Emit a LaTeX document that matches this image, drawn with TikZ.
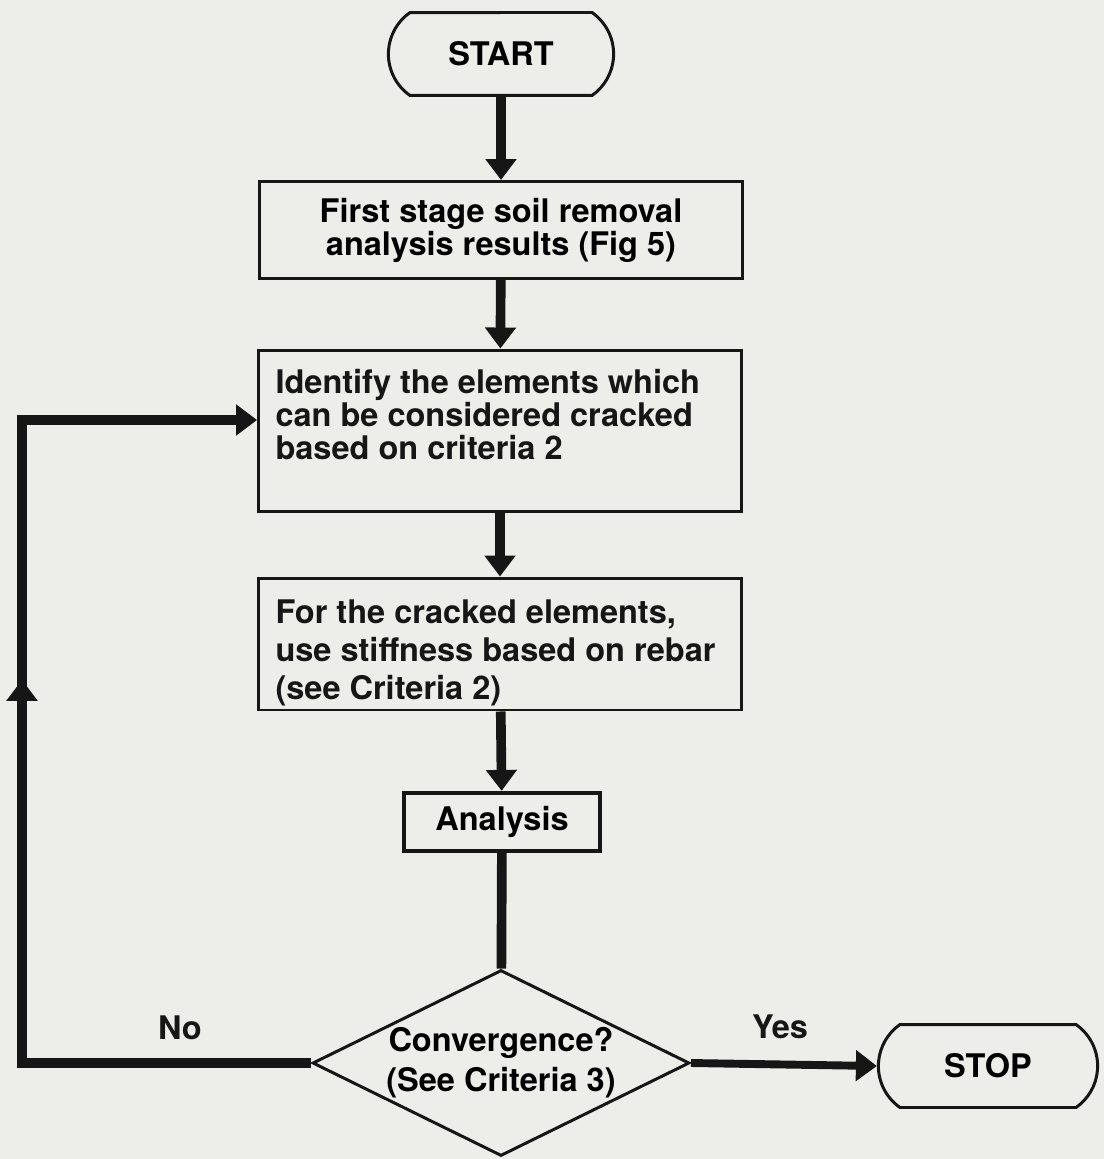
\documentclass[tikz,border=0pt]{standalone}
\usepackage{fontspec}
\setmainfont{TeX Gyre Heros}
\usetikzlibrary{arrows.meta, positioning, shapes.geometric, shapes.misc, decorations.markings}
\definecolor{ink}{HTML}{161616}
\definecolor{paper}{HTML}{EDEDE9}
\tikzset{
  every picture/.style={font=\bfseries\fontsize{18.5}{18.8}\selectfont, line width=1.7pt},
  term/.style={draw=ink, rounded rectangle, rounded rectangle arc length=110, minimum height=1.66cm},
  procbox/.style={draw=ink, rectangle, minimum width=9.66cm, inner sep=0pt, align=center},
  txt/.style={text=ink, align=left, inner sep=0pt},
  decide/.style={draw=ink, diamond, aspect=2.03, minimum width=7.54cm, minimum height=3.72cm, inner sep=0pt, align=center},
  flow/.style={-{Triangle[length=0.42cm, width=0.6cm]}, draw=ink, line width=5.5pt},
  plain/.style={draw=ink, line width=5.5pt},
  midup/.style={postaction={decorate}, decoration={markings,
    mark=at position 0.576 with {\arrow{Triangle[length=0.42cm, width=0.6cm]}}}},
  lbl/.style={text=ink, inner sep=0pt},
}
\begin{document}
\begin{tikzpicture}[x=0.02cm, y=-0.02cm]
  \fill[paper] (0,0) rectangle (1104,1159);
  \useasboundingbox (0,0) rectangle (1104,1159);

  \node[term, minimum width=4.74cm] (start) at (501,54) {START};
  \node[procbox, minimum height=1.94cm] (soil) at (501,230)
    {First stage soil removal\\analysis results (Fig 5)};
  \node[procbox, minimum height=3.24cm] (ident) at (500,431) {};
  \node[txt, anchor=north west] (identtxt) at ([xshift=0.34cm, yshift=-0.38cm]ident.north west)
    {Identify the elements which\\can be considered cracked\\based on criteria 2};
  \node[procbox, minimum height=2.64cm] (stiff) at (500,644) {};
  \node[txt, anchor=north west] (stifftxt) at ([xshift=0.34cm, yshift=-0.44cm]stiff.north west)
    {For the cracked elements,\\[2.9pt]use stiffness based on rebar\\[2.9pt](see Criteria 2)};
  \node[procbox, minimum width=3.92cm, minimum height=1.16cm, line width=2.4pt] (anal) at (502,822) {Analysis};
  \node[decide] (conv) at (501,1063) {Convergence?\\[4pt](See Criteria 3)};
  \node[term, minimum width=4.62cm] (stop) at (988,1066) {STOP};
  \coordinate (loop) at (22,420);

  \draw[flow] (start) -- (soil);
  \draw[flow] (soil) -- (ident);
  \draw[flow] (ident) -- (stiff);
  \draw[flow] (stiff) -- (anal);
  \draw[plain] (anal) -- (conv);
  \draw[flow, line width=4.5pt] (conv.east) -- (stop.west);
  \draw[flow, midup, line join=miter] (conv.west) -- (conv.west -| loop) -- (loop) -- (ident.west |- loop);

  \node[lbl] (yes) at (780,1027) {Yes};
  \node[lbl] (no) at (180,1028) {No};
\end{tikzpicture}
\end{document}
